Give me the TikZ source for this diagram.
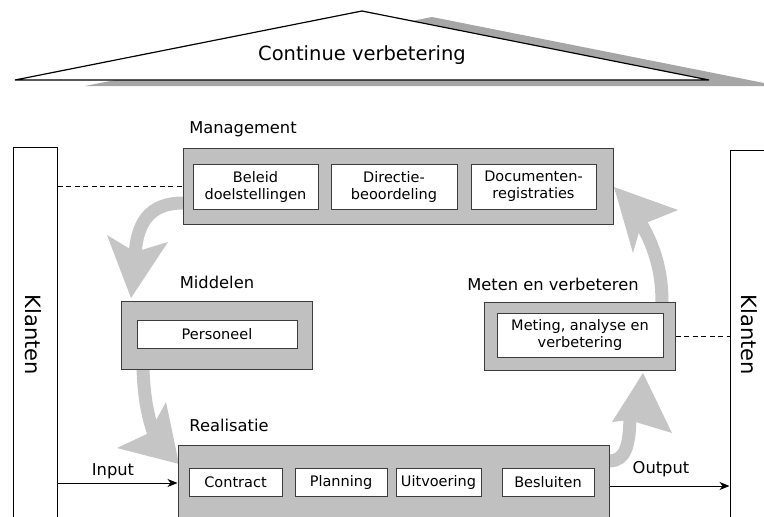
\documentclass[tikz,border=0pt]{standalone}
\usepackage{fontspec}
\setmainfont{DejaVu Sans}
\usetikzlibrary{arrows.meta,calc}
\definecolor{boxgray}{RGB}{192,192,192}
\definecolor{arrgray}{RGB}{197,197,197}
\definecolor{shadowgray}{RGB}{166,166,166}
\definecolor{edgec}{RGB}{60,60,60}
\begin{document}
\begin{tikzpicture}[x=1pt,y=-1pt,
  outerbox/.style={draw=edgec,fill=boxgray,line width=1pt,rectangle,inner sep=0pt},
  innerbox/.style={draw=edgec,fill=white,line width=0.9pt,rectangle,inner sep=0pt,align=center,font=\fontsize{14.5}{17}\selectfont},
  klantbox/.style={draw=black,fill=white,line width=1pt,rectangle,inner sep=0pt},
  lab/.style={font=\fontsize{16.3}{19}\selectfont,inner sep=0pt},
  klantlab/.style={font=\fontsize{21}{24}\selectfont,inner sep=0pt,rotate=-90},
  bigshaft/.style={draw=arrgray,line width=13pt},
  bighead/.style={fill=arrgray},
  flow/.style={draw=black,line width=1pt,-{Stealth[length=10pt,width=8pt,inset=3pt]}},
  dashline/.style={draw=black,line width=1pt,dash pattern=on 5pt off 3.5pt}]
\useasboundingbox (0,0) rectangle (764,517);
\clip (0,0) rectangle (764,517);

% roof
\fill[shadowgray] (85,86) -- (432,17) -- (779,86) -- cycle;
\draw[fill=white,line width=1.2pt] (15,80) -- (362,11) -- (709,80) -- cycle;
\node[font=\fontsize{19.5}{23}\selectfont,inner sep=0pt] (title) at (362,55) {Continue verbetering};

% customers
\node[klantbox,minimum width=44pt,minimum height=393pt] (kl) at (35,343.5) {};
\node[klantlab] (kltext) at (33,335) {Klanten};
\node[klantbox,minimum width=70pt,minimum height=390pt] (kr) at (765,345) {};
\node[klantlab] (krtext) at (749,335) {Klanten};

% big grey arrows (under the boxes)
\draw[bigshaft] (183,203) .. controls (150,203) and (135,222) .. (135,262);
\fill[bighead] (131,298) -- (107,235) -- (135,252) -- (168,242) -- cycle;

\draw[bigshaft] (143,369) .. controls (144,398) and (148,418) .. (155,437);
\fill[bighead] (179,464) -- (117,448) -- (149,433) -- (166,402) -- cycle;

\draw[bigshaft] (609,461) .. controls (626,461) and (630,445) .. (630,412);
\fill[bighead] (643,373) -- (612,422) -- (629,420) -- (672,433) -- cycle;

\draw[bigshaft] (662,302) .. controls (662,270) and (654,245) .. (639,220);
\fill[bighead] (614,187) -- (633,253) -- (641,225) -- (678,210) -- cycle;

% Management
\node[lab] (mglab) at (243,129) {Management};
\node[outerbox,minimum width=430pt,minimum height=76pt] (mg) at (398,186) {};
\node[innerbox,minimum width=125pt,minimum height=45pt] (beleid) at (255.5,186.5) {Beleid\\doelstellingen};
\node[innerbox,minimum width=126pt,minimum height=45pt] (directie) at (394,186.5) {Directie-\\beoordeling};
\node[innerbox,minimum width=125pt,minimum height=45pt] (docu) at (533.5,186.5) {Documenten-\\registraties};

% Middelen
\node[lab] (midlab) at (217,282) {Middelen};
\node[outerbox,minimum width=191pt,minimum height=68pt] (mid) at (216.5,335) {};
\node[innerbox,minimum width=160pt,minimum height=28pt] (pers) at (217,334) {Personeel};

% Meten en verbeteren
\node[lab] (metlab) at (553,284) {Meten en verbeteren};
\node[outerbox,minimum width=191pt,minimum height=68pt] (met) at (579.5,336) {};
\node[innerbox,minimum width=166pt,minimum height=44pt] (meting) at (580,335) {Meting, analyse en\\verbetering};

% Realisatie
\node[lab] (reallab) at (229,425) {Realisatie};
\node[outerbox,minimum width=431pt,minimum height=95pt] (real) at (393.5,492.5) {};
\node[innerbox,minimum width=93pt,minimum height=28pt] (contract) at (235.5,482) {Contract};
\node[innerbox,minimum width=92pt,minimum height=28pt] (planning) at (341,482) {Planning};
\node[innerbox,minimum width=85pt,minimum height=28pt] (uitv) at (438.5,482) {Uitvoering};
\node[innerbox,minimum width=92pt,minimum height=28pt] (besl) at (548,482) {Besluiten};

% input / output
\draw[flow] (kl.east |- 0,483) -- (real.west |- 0,483);
\node[lab] (inlab) at (113,471) {Input};
\draw[flow] (real.east |- 0,486) -- (kr.west |- 0,486);
\node[lab] (outlab) at (661,469) {Output};

% dashed links
\draw[dashline] (kl.east |- 0,186) -- (mg.west);
\draw[dashline] (met.east) -- (kr.west |- met.east);
\end{tikzpicture}
\end{document}
